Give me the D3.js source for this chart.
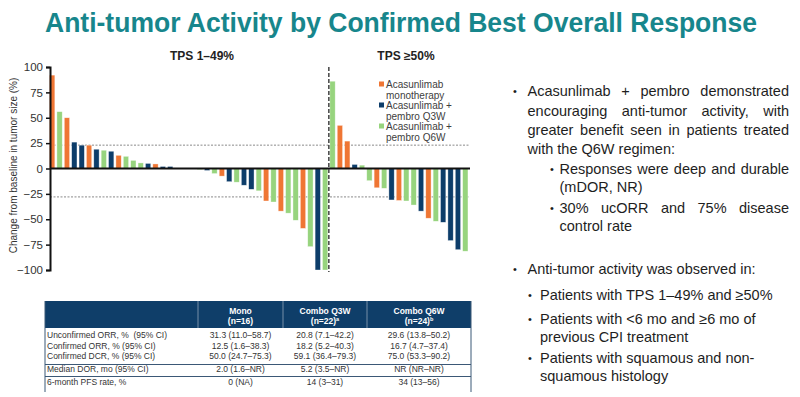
<!DOCTYPE html>
<html>
<head>
<meta charset="utf-8">
<script src="https://cdn.jsdelivr.net/npm/d3@7"></script>
<style>
  html, body { margin: 0; padding: 0; background: #fff; }
  svg { display: block; font-family: "Liberation Sans", Arial, sans-serif; }
</style>
</head>
<body>
<svg id="chart" width="800" height="397"></svg>
<script>
// ---- data ----
const armKeys = ['mono', 'q3w', 'q6w'];
const legendLabels = [['Acasunlimab', 'monotherapy'], ['Acasunlimab +', 'pembro Q3W'], ['Acasunlimab +', 'pembro Q6W']];

// TPS 1–49% (best % change, waterfall order)
const tpsLowValues = [92, 56, 50, 26, 23, 23, 19, 18, 17, 13, 12, 8, 5.5, 5, 4.5, 2, 2, 0.5, 0, 0,
  -1, -2, -5, -7.5, -13, -13.5, -16.5, -20.5, -22, -32, -33, -42, -44, -51, -59, -77, -100, -100];
const tpsLowArms = ['mono', 'q6w', 'mono', 'q3w', 'q3w', 'mono', 'q3w', 'q6w', 'q3w', 'mono', 'q6w', 'q6w', 'q6w',
  'q3w', 'mono', 'q3w', 'q3w', 'q6w', 'q6w', 'q3w', 'q6w', 'q3w', 'q6w', 'mono', 'q3w', 'q6w', 'q3w', 'q3w',
  'q6w', 'mono', 'q6w', 'mono', 'q6w', 'q6w', 'mono', 'q6w', 'q3w', 'q6w'];

// TPS >=50%
const tpsHighValues = [86, 42.5, 27, 4, 3.3, -12, -19, -19.5, -31, -31.5, -32, -36, -42, -49, -52, -53, -71, -80, -81.5];
const tpsHighArms = ['q6w', 'mono', 'mono', 'q3w', 'q6w', 'q6w', 'mono', 'q6w', 'q3w', 'mono', 'q6w', 'q6w',
  'q3w', 'mono', 'q6w', 'q3w', 'q3w', 'q3w', 'q6w'];

const panelTitles = ['TPS 1–49%', 'TPS ≥50%'];
const yTicks = [100, 75, 50, 25, 0, -25, -50, -75, -100];
const refLines = [23, -28];

const tableHeads = [['Mono', '(n=16)', ''], ['Combo Q3W', '(n=22)', 'a'], ['Combo Q6W', '(n=24)', 'b']];
const tableRowLabels = ['Unconfirmed ORR, %  (95% CI)', 'Confirmed ORR, % (95% CI)', 'Confirmed DCR, % (95% CI)',
  'Median DOR, mo (95% CI)', '6-month PFS rate, %'];
const monoCol = ['31.3 (11.0–58.7)', '12.5 (1.6–38.3)', '50.0 (24.7–75.3)', '2.0 (1.6–NR)', '0 (NA)'];
const q3wCol = ['20.8 (7.1–42.2)', '18.2 (5.2–40.3)', '59.1 (36.4–79.3)', '5.2 (3.5–NR)', '14 (3–31)'];
const q6wCol = ['29.6 (13.8–50.2)', '16.7 (4.7–37.4)', '75.0 (53.3–90.2)', 'NR (NR–NR)', '34 (13–56)'];

const keyPoints = [
  { level: 0, lines: ['Acasunlimab + pembro demonstrated', 'encouraging anti-tumor activity, with',
    'greater benefit seen in patients treated', 'with the Q6W regimen:'], justify: 3 },
  { level: 1, lines: ['Responses were deep and durable', '(mDOR, NR)'], justify: 1 },
  { level: 1, lines: ['30% ucORR and 75% disease', 'control rate'], justify: 1 },
  { level: 0, lines: ['Anti-tumor activity was observed in:'], justify: 0 },
  { level: 2, lines: ['Patients with TPS 1–49% and ≥50%'], justify: 0 },
  { level: 2, lines: ['Patients with <6 mo and ≥6 mo of', 'previous CPI treatment'], justify: 0 },
  { level: 2, lines: ['Patients with squamous and non-', 'squamous histology'], justify: 0 }
];

// ---- styles ----
const colors = { mono: '#ef7634', q3w: '#0d3d6a', q6w: '#97d47e' };
const teal = '#17868c';
const navy = '#0f3e69';
const textColor = '#333';

const svg = d3.select('#chart');

// title
svg.append('text')
  .attr('x', 45).attr('y', 32)
  .attr('textLength', 712).attr('lengthAdjust', 'spacingAndGlyphs')
  .style('font-family', '"Liberation Sans Narrow", "Liberation Sans", Arial, sans-serif')
  .style('font-weight', 'bold').style('font-size', '28px')
  .attr('fill', teal)
  .text('Anti-tumor Activity by Confirmed Best Overall Response');

// ---- waterfall ----
const allValues = tpsLowValues.concat(tpsHighValues);
const allArms = tpsLowArms.concat(tpsHighArms);
const bars = allValues.map((v, i) => ({ i, value: v, arm: allArms[i] }));

const y = d3.scaleLinear().domain([-100, 100]).range([270, 67]);
const x = d3.scaleBand().domain(d3.range(bars.length)).range([48.5, 469]).paddingInner(0.28).paddingOuter(0.14);

const plot = svg.append('g');

// reference lines
plot.selectAll('.ref').data(refLines).join('line')
  .attr('class', 'ref')
  .attr('x1', 50).attr('x2', 470)
  .attr('y1', d => y(d)).attr('y2', d => y(d))
  .attr('stroke', '#8a8a8a').attr('stroke-width', 1).attr('stroke-dasharray', '2,1.5');

// bars
plot.selectAll('.bar').data(bars).join('rect')
  .attr('class', 'bar')
  .attr('x', d => x(d.i))
  .attr('width', x.bandwidth())
  .attr('y', d => y(Math.max(0, d.value)))
  .attr('height', d => Math.abs(y(d.value) - y(0)))
  .attr('fill', d => colors[d.arm])
  .attr('stroke', '#fff').attr('stroke-opacity', 0.6).attr('stroke-width', 0.6);

// zero line
plot.append('line')
  .attr('x1', 50).attr('x2', 470).attr('y1', y(0)).attr('y2', y(0))
  .attr('stroke', '#111').attr('stroke-width', 2);

// panel divider
const divX = (x(tpsLowValues.length - 1) + x.bandwidth() + x(tpsLowValues.length)) / 2;
plot.append('line')
  .attr('x1', divX).attr('x2', divX).attr('y1', 67).attr('y2', 272)
  .attr('stroke', '#444').attr('stroke-width', 1.5).attr('stroke-dasharray', '4,2');

// y axis
const yAxis = plot.append('g')
  .attr('transform', 'translate(50,0)')
  .call(d3.axisLeft(y).tickValues(yTicks).tickSize(4).tickPadding(3));
yAxis.select('.domain').attr('stroke', '#111').attr('stroke-width', 2);
yAxis.selectAll('.tick line').attr('stroke', '#111').attr('stroke-width', 1.5);
yAxis.selectAll('.tick text')
  .style('font-family', '"Liberation Sans", Arial, sans-serif')
  .style('font-size', '11.5px').attr('fill', textColor);

svg.append('text')
  .attr('transform', `translate(17,${y(0) - 3}) rotate(-90)`)
  .attr('text-anchor', 'middle')
  .style('font-size', '10px').attr('fill', textColor)
  .text('Change from baseline in tumor size (%)');

// panel titles
svg.selectAll('.panel-title').data(panelTitles).join('text')
  .attr('class', 'panel-title')
  .attr('x', (d, i) => i === 0 ? 202 : 406)
  .attr('y', 60)
  .attr('text-anchor', 'middle')
  .style('font-size', '12px').style('font-weight', 'bold').attr('fill', '#222')
  .text(d => d);

// legend
const legend = svg.append('g').attr('transform', 'translate(379,0)');
armKeys.forEach((k, i) => {
  const top = 81.5 + i * 21;
  legend.append('rect').attr('x', 0).attr('y', top).attr('width', 5).attr('height', 5).attr('fill', colors[k]);
  legendLabels[i].forEach((line, j) => {
    legend.append('text')
      .attr('x', 7).attr('y', top + 6.5 + j * 10.5)
      .style('font-size', '10px').attr('fill', '#404040')
      .text(line);
  });
});

// ---- table ----
const colX = [45, 198, 283, 367, 471];
const headTop = 301, headBottom = 328;
const rowBase = [338, 348.5, 359, 371.5, 385];
const table = svg.append('g');

table.append('rect')
  .attr('x', colX[0]).attr('y', headTop)
  .attr('width', colX[4] - colX[0]).attr('height', headBottom - headTop)
  .attr('fill', navy);
[1, 2, 3].forEach(c => {
  table.append('line')
    .attr('x1', colX[c]).attr('x2', colX[c]).attr('y1', headTop).attr('y2', headBottom)
    .attr('stroke', '#8fa3b8').attr('stroke-width', 0.8);
});
tableHeads.forEach((h, c) => {
  const cx = (colX[c + 1] + colX[c + 2]) / 2;
  table.append('text').attr('x', cx).attr('y', 314).attr('text-anchor', 'middle')
    .style('font-size', '8.5px').style('font-weight', 'bold').attr('fill', '#fff').text(h[0]);
  const t2 = table.append('text').attr('x', cx).attr('y', 323.5).attr('text-anchor', 'middle')
    .style('font-size', '8.5px').style('font-weight', 'bold').attr('fill', '#fff');
  t2.append('tspan').text(h[1]);
  if (h[2]) t2.append('tspan').attr('dy', -3).style('font-size', '5.5px').text(h[2]);
});

// borders and row rules
table.append('line').attr('x1', colX[0]).attr('x2', colX[0]).attr('y1', headTop).attr('y2', 392)
  .attr('stroke', '#3b5876').attr('stroke-width', 1);
table.append('line').attr('x1', colX[4]).attr('x2', colX[4]).attr('y1', headTop).attr('y2', 392)
  .attr('stroke', '#3b5876').attr('stroke-width', 1);
[364.5, 376.5].forEach(ly => {
  table.append('line').attr('x1', colX[0]).attr('x2', colX[4]).attr('y1', ly).attr('y2', ly)
    .attr('stroke', '#3b5876').attr('stroke-width', 1.2);
});

const bodyCols = [monoCol, q3wCol, q6wCol];
tableRowLabels.forEach((label, r) => {
  table.append('text').attr('x', colX[0] + 2).attr('y', rowBase[r])
    .style('font-size', '8.5px').style('white-space', 'pre').attr('fill', textColor).text(label);
  bodyCols.forEach((col, c) => {
    table.append('text').attr('x', (colX[c + 1] + colX[c + 2]) / 2).attr('y', rowBase[r])
      .attr('text-anchor', 'middle')
      .style('font-size', '8.5px').attr('fill', textColor).text(col[r]);
  });
});

// ---- key points ----
const notes = svg.append('g').style('font-size', '14.5px').attr('fill', '#1e1e1e');
const indent = {
  0: { bullet: 513, text: 527.5, right: 789 },
  1: { bullet: 550, text: 559.5, right: 789 },
  2: { bullet: 528, text: 540, right: 789 }
};
const noteBase = [[96, 115.5, 135, 154], [174, 192], [212.5, 231], [274], [300], [323.5, 342], [363, 381]];

function justifyLine(words, x0, x1, yy) {
  const t = notes.append('text').attr('y', yy);
  const spans = words.map(w => t.append('tspan').text(w));
  const widths = spans.map(s => s.node().getComputedTextLength());
  const gap = (x1 - x0 - d3.sum(widths)) / (words.length - 1);
  let cx = x0;
  spans.forEach((s, i) => { s.attr('x', cx); cx += widths[i] + gap; });
}

keyPoints.forEach((p, k) => {
  const ind = indent[p.level];
  notes.append('text').attr('x', ind.bullet).attr('y', noteBase[k][0] - 1)
    .style('font-size', '11px').text('•');
  p.lines.forEach((line, j) => {
    const yy = noteBase[k][j];
    if (j < p.justify) {
      justifyLine(line.split(' '), ind.text, ind.right, yy);
    } else {
      notes.append('text').attr('x', ind.text).attr('y', yy).text(line);
    }
  });
});
</script>
</body>
</html>
